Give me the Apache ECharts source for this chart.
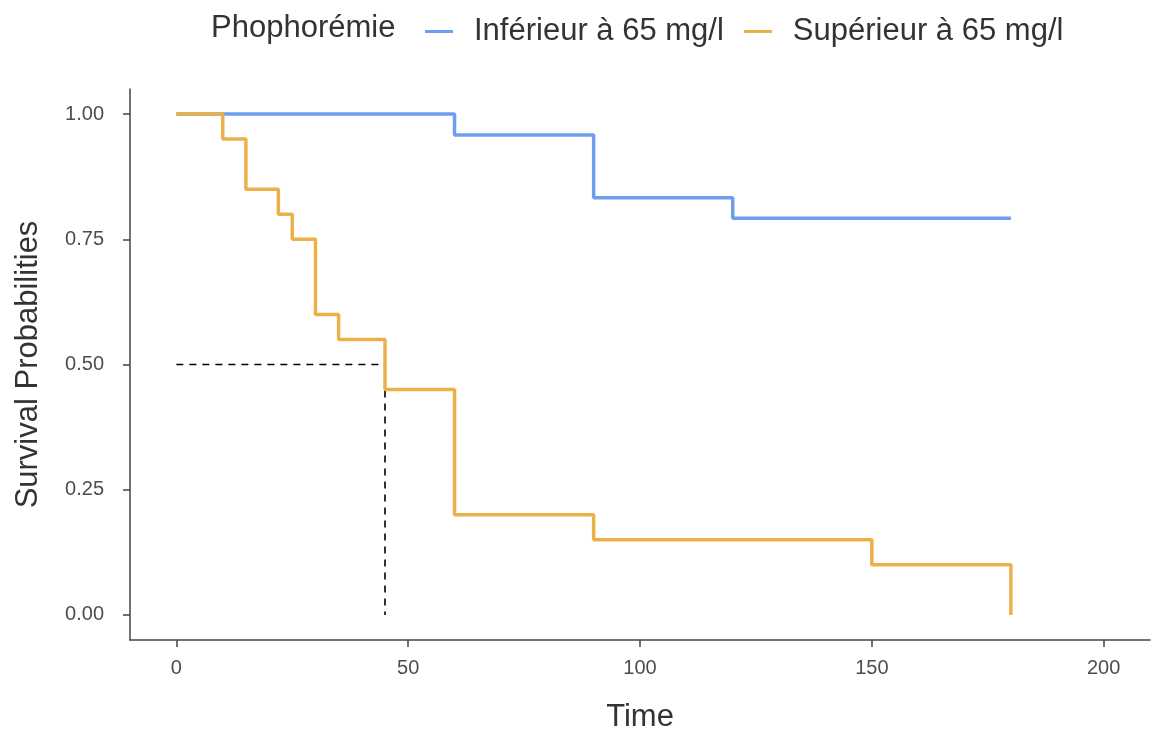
<!DOCTYPE html>
<html>
<head>
<meta charset="utf-8">
<script src="https://cdn.jsdelivr.net/npm/echarts@6/dist/echarts.min.js"></script>
<style>
html, body { margin: 0; padding: 0; background: #fff; }
#main { width: 1153px; height: 738px; }
</style>
</head>
<body>
<div id="main"></div>
<script>
// Kaplan-Meier steps
var groupNames = ['Inférieur à 65 mg/l', 'Supérieur à 65 mg/l'];
var timeLow = [0, 60, 90, 120, 180];
var survLow = [1, 0.958, 0.833, 0.792, 0.792];
var timeHigh = [0, 10, 15, 22, 25, 30, 35, 45, 60, 90, 150, 180];
var survHigh = [1, 0.95, 0.85, 0.80, 0.75, 0.60, 0.55, 0.45, 0.20, 0.15, 0.10, 0];
var medianTime = 45;
var medianSurv = 0.5;
var xTicks = [0, 50, 100, 150, 200];
var yTicks = [0, 0.25, 0.5, 0.75, 1];

var colors = ['#6f9ef0', '#ebb048'];

function pairs(xs, ys) {
    var out = [];
    for (var i = 0; i < xs.length; i++) out.push([xs[i], ys[i]]);
    return out;
}

var dom = document.getElementById('main');
var myChart = echarts.init(dom);

var axisColor = '#444';
var font = 'Liberation Sans, Arial, sans-serif';

option = {
    animation: false,
    color: colors,
    grid: { left: 130, right: 3, top: 89, bottom: 97 },
    graphic: [{
        type: 'text',
        x: 211,
        y: 28,
        style: { text: 'Phophorémie', fontSize: 31, fontFamily: font, fill: '#333', verticalAlign: 'middle' }
    }],
    legend: {
        data: groupNames,
        left: 420,
        top: 11,
        icon: 'rect',
        itemWidth: 28,
        itemHeight: 3,
        itemGap: 20,
        textStyle: { fontSize: 31, fontFamily: font, color: '#333', padding: [0, 0, 0, 16] }
    },
    xAxis: {
        type: 'value',
        min: -10,
        max: 210,
        name: 'Time',
        nameLocation: 'middle',
        nameGap: 62,
        nameTextStyle: { fontSize: 31, fontFamily: font, color: '#333' },
        splitLine: { show: false },
        axisLine: { show: true, onZero: false, lineStyle: { color: axisColor, width: 1.5 } },
        axisTick: { show: true, length: 7, customValues: xTicks, lineStyle: { color: axisColor, width: 1.5 } },
        axisLabel: { customValues: xTicks, margin: 18, fontSize: 20, fontFamily: font, color: '#4d4d4d' }
    },
    yAxis: {
        type: 'value',
        min: -0.05,
        max: 1.05,
        name: 'Survival Probabilities',
        nameLocation: 'middle',
        nameGap: 86,
        nameTextStyle: { fontSize: 31, fontFamily: font, color: '#333' },
        splitLine: { show: false },
        axisLine: { show: true, onZero: false, lineStyle: { color: axisColor, width: 1.5 } },
        axisTick: { show: true, length: 7, customValues: yTicks, lineStyle: { color: axisColor, width: 1.5 } },
        axisLabel: {
            customValues: yTicks,
            margin: 26,
            fontSize: 20,
            fontFamily: font,
            color: '#4d4d4d',
            formatter: function (v) { return v.toFixed(2); }
        }
    },
    series: [{
        name: groupNames[0],
        type: 'line',
        step: 'end',
        showSymbol: false,
        data: pairs(timeLow, survLow),
        lineStyle: { width: 3.5 }
    }, {
        name: groupNames[1],
        type: 'line',
        step: 'end',
        showSymbol: false,
        data: pairs(timeHigh, survHigh),
        lineStyle: { width: 3.5 }
    }, {
        name: 'median-h',
        type: 'line',
        silent: true,
        showSymbol: false,
        data: [[0, medianSurv], [medianTime, medianSurv]],
        lineStyle: { color: '#000', width: 1.6, type: [7, 6] },
        z: 1
    }, {
        name: 'median-v',
        type: 'line',
        silent: true,
        showSymbol: false,
        data: [[medianTime, medianSurv], [medianTime, 0]],
        lineStyle: { color: '#000', width: 1.6, type: [7, 6] },
        z: 1
    }]
};

if (option && typeof option === 'object') {
    myChart.setOption(option, true);
}
</script>
</body>
</html>
